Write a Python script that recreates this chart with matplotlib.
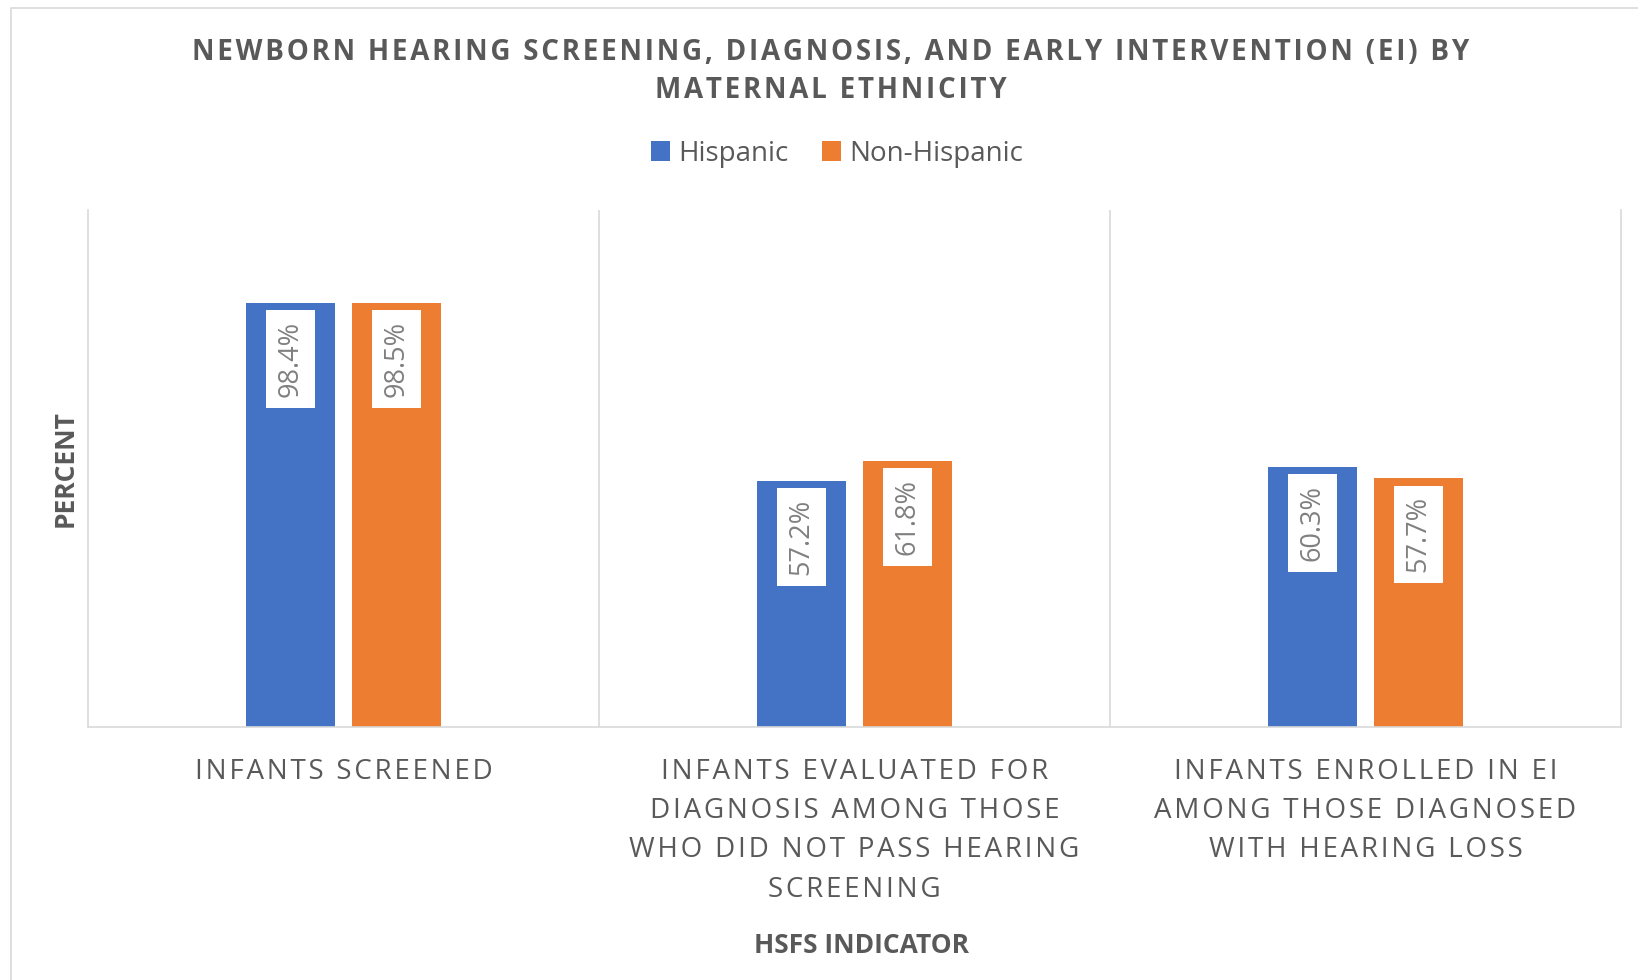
import numpy as np
import matplotlib
matplotlib.use("Agg")
from matplotlib import pyplot as plt
from matplotlib.patches import Rectangle

## chart data
categories = ["INFANTS SCREENED",
              "INFANTS EVALUATED FOR\nDIAGNOSIS AMONG THOSE\nWHO DID NOT PASS HEARING\nSCREENING",
              "INFANTS ENROLLED IN EI\nAMONG THOSE DIAGNOSED\nWITH HEARING LOSS"]
series_names = ["Hispanic", "Non-Hispanic"]
hispanic = [98.4, 57.2, 60.3]
non_hispanic = [98.5, 61.8, 57.7]

title = "NEWBORN HEARING SCREENING, DIAGNOSIS, AND EARLY INTERVENTION (EI) BY\nMATERNAL ETHNICITY"
colors = ["#4472C4", "#ED7D31"]
grey = "#595959"
line_grey = "#D9D9D9"

plt.rcParams['font.family'] = ['Open Sans', 'DejaVu Sans']


## letter spacing like the excel caps labels
def spaced(s):
    return "\n".join("\u200a".join(line) for line in s.split("\n"))


fig = plt.figure(figsize=(16.38, 9.8), dpi=100)
ax = fig.add_axes([88 / 1638, 1 - 727 / 980, 1533 / 1638, 517 / 980])

# outer chart frame
fig.patches.append(Rectangle((11 / 1638, -0.1), 1.2, 1 - 8 / 980 + 0.1,
                             transform=fig.transFigure, fill=False,
                             edgecolor=line_grey, lw=1.2))

x = np.arange(len(categories))
width = 0.174
offset = 0.104

for vals, off, col, name in [(hispanic, -offset, colors[0], series_names[0]),
                             (non_hispanic, offset, colors[1], series_names[1])]:
    ax.bar(x + off, vals, width, color=col, label=name)
    for xi, v in zip(x + off, vals):
        ax.annotate("%.1f%%" % v, xy=(xi, v), xytext=(0, -56),
                    textcoords="offset pixels", rotation=90,
                    ha="center", va="center", fontsize=19.5, color="#808080",
                    bbox=dict(boxstyle="square,pad=0.4", fc="white", ec="none"))

ax.set_xlim(-0.5, 2.5)
ax.set_ylim(0, 120)
for sep in [0.5, 1.5]:
    ax.axvline(sep, color=line_grey, lw=1.2)
ax.spines["top"].set_visible(False)
for s in ["left", "right", "bottom"]:
    ax.spines[s].set_color(line_grey)
    ax.spines[s].set_linewidth(1.2)
ax.set_yticks([])
ax.set_xticks(x)
ax.set_xticklabels([spaced(c) for c in categories], fontsize=20, color=grey,
                   linespacing=1.54)
ax.tick_params(axis="x", length=0, pad=22)

fig.text(0.507, 0.927, spaced(title), ha="center", va="center", fontsize=20,
         fontweight="bold", color=grey, linespacing=1.45)
fig.text(0.040, 0.522, "PERCENT", rotation=90, ha="center", va="center",
         fontsize=19, fontweight="bold", color=grey)
fig.text(0.526, 0.035, "HSFS INDICATOR", ha="center", va="center",
         fontsize=19, fontweight="bold", color=grey)

fig.legend(loc="center", bbox_to_anchor=(0.511, 0.843), ncol=2, frameon=False,
           fontsize=20, labelcolor=grey, handlelength=0.7, handleheight=0.7,
           handletextpad=0.3, columnspacing=1.2)

fig.savefig("out.png", dpi=100)
